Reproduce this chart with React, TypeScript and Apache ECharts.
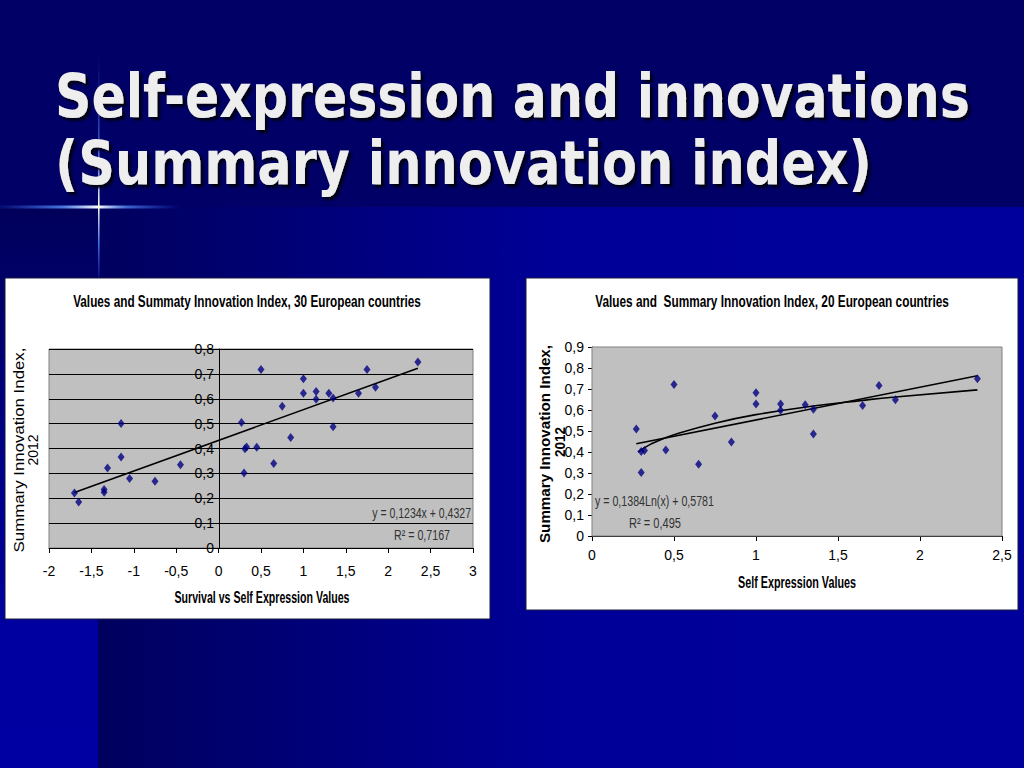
import React, { useEffect, useRef } from "react";
import * as echarts from "echarts";

// ---- data ----
const leftX = [-1.70, -1.65, -1.35, -1.35, -1.31, -1.15, -1.15, -1.05, -0.75, -0.45, 0.27, 0.30, 0.31, 0.33, 0.45, 0.50, 0.65, 0.75, 0.85, 1.0, 1.0, 1.15, 1.15, 1.30, 1.35, 1.35, 1.65, 1.75, 1.85, 2.35];
const leftY = [0.221, 0.185, 0.235, 0.224, 0.322, 0.501, 0.366, 0.279, 0.268, 0.335, 0.505, 0.302, 0.399, 0.406, 0.405, 0.718, 0.340, 0.570, 0.444, 0.680, 0.622, 0.629, 0.598, 0.622, 0.603, 0.487, 0.622, 0.718, 0.646, 0.748];
const leftTrendX = [-1.70, 2.35];
const leftTrendY = [0.223, 0.723];

const rightX = [0.27, 0.30, 0.30, 0.32, 0.45, 0.50, 0.65, 0.75, 0.85, 1.0, 1.0, 1.15, 1.15, 1.30, 1.35, 1.35, 1.65, 1.75, 1.85, 2.35];
const rightY = [0.509, 0.302, 0.402, 0.407, 0.409, 0.722, 0.342, 0.571, 0.448, 0.682, 0.628, 0.628, 0.599, 0.625, 0.604, 0.486, 0.622, 0.717, 0.649, 0.749];
const rightLinX = [0.27, 2.35];
const rightLinY = [0.439, 0.763];
const rightLogX = [0.28, 0.35, 0.40, 0.50, 0.75, 1.0, 1.35, 1.65, 1.85, 2.35];
const rightLogY = [0.400, 0.434, 0.452, 0.482, 0.537, 0.578, 0.619, 0.646, 0.662, 0.696];

const titleLines = ["Self-expression and innovations", "(Summary innovation index)"];
const leftTitle = "Values and Summaty Innovation Index, 30 European countries";
const rightTitle = "Values and  Summary Innovation Index, 20 European countries";
const leftXName = "Survival vs Self Expression Values";
const rightXName = "Self Expression Values";
const yNameMain = "Summary Innovation Index,";
const yNameYear = "2012";
const leftEq = ["y = 0,1234x + 0,4327", "R² = 0,7167"];
const rightEq = ["y = 0,1384Ln(x) + 0,5781", "R² = 0,495"];

const NARROW = "'Liberation Sans Narrow', 'Arial Narrow', 'Liberation Sans', Arial, sans-serif";
const SANS = "'Liberation Sans', Arial, sans-serif";
const TITLE_FONT = "'DejaVu Sans', Verdana, sans-serif";

function measure(text: string, font: string): number {
  const c = document.createElement("canvas");
  const ctx = c.getContext("2d");
  if (!ctx) return text.length * 8;
  ctx.font = font;
  return ctx.measureText(text).width || 1;
}

function fitText(
  text: string,
  x: number,
  y: number,
  target: number,
  o: { size: number; family: string; weight?: string; fill?: string; align?: string; rotation?: number; z?: number; shadow?: boolean }
) {
  const weight = o.weight || "normal";
  const w = measure(text, `${weight} ${o.size}px ${o.family}`);
  const style: any = {
    text,
    fontSize: o.size,
    fontFamily: o.family,
    fontWeight: weight,
    fill: o.fill || "#000",
    align: o.align || "center",
    verticalAlign: "middle",
  };
  if (o.shadow) {
    style.textShadowColor = "rgba(0,0,25,1)";
    style.textShadowOffsetX = 3;
    style.textShadowOffsetY = 3;
    style.textShadowBlur = 2;
  }
  return {
    type: "text",
    x,
    y,
    rotation: o.rotation || 0,
    scaleX: target / w,
    z: o.z ?? 20,
    silent: true,
    style,
  };
}

const fmt = (v: number) => String(+v.toFixed(2)).replace(".", ",");

function zip(a: number[], b: number[]) {
  return a.map((v, i) => [v, b[i]]);
}

export default function App() {
  const ref = useRef<HTMLDivElement>(null);
  useEffect(() => {
    if (!ref.current) return;
    const chart = echarts.init(ref.current, undefined, { renderer: "svg" });

    const axisCommon = (margin: number) => ({
      type: "value",
      axisLine: { show: true, onZero: true, lineStyle: { color: "#000", width: 1 } },
      axisTick: { show: true, length: 5, lineStyle: { color: "#000", width: 1 } },
      axisLabel: { margin, fontSize: 14, color: "#000", fontFamily: NARROW, formatter: fmt },
    });

    const graphic: any[] = [
      // background
      { type: "rect", z: -30, silent: true, shape: { x: 0, y: 0, width: 1024, height: 768 }, style: { fill: "#000066" } },
      {
        type: "rect", z: -29, silent: true,
        shape: { x: 98, y: 207, width: 926, height: 561 },
        style: {
          fill: new echarts.graphic.LinearGradient(0, 0, 1, 0, [
            { offset: 0, color: "#00005e" },
            { offset: 0.5, color: "#000098" },
            { offset: 1, color: "#00009c" },
          ]),
        },
      },
      {
        type: "rect", z: -29, silent: true,
        shape: { x: 0, y: 207, width: 98, height: 561 },
        style: {
          fill: new echarts.graphic.LinearGradient(0, 0, 0, 1, [
            { offset: 0, color: "#00005a" },
            { offset: 0.45, color: "#000088" },
            { offset: 0.75, color: "#0000a0" },
            { offset: 1, color: "#0000a2" },
          ]),
        },
      },
      // flare
      {
        type: "rect", z: -28, silent: true,
        shape: { x: 0, y: 205.5, width: 180, height: 3 },
        style: {
          fill: new echarts.graphic.LinearGradient(0, 0, 1, 0, [
            { offset: 0, color: "rgba(60,110,255,0.1)" },
            { offset: 0.35, color: "rgba(90,150,255,0.8)" },
            { offset: 0.545, color: "#ffffff" },
            { offset: 0.7, color: "rgba(90,150,255,0.7)" },
            { offset: 1, color: "rgba(60,110,255,0)" },
          ]),
        },
      },
      {
        type: "rect", z: -28, silent: true,
        shape: { x: 98, y: 55, width: 1.6, height: 222 },
        style: {
          fill: new echarts.graphic.LinearGradient(0, 0, 0, 1, [
            { offset: 0, color: "rgba(60,110,255,0)" },
            { offset: 0.4, color: "rgba(80,140,255,0.6)" },
            { offset: 0.68, color: "#ffffe0" },
            { offset: 0.85, color: "rgba(80,140,255,0.8)" },
            { offset: 1, color: "rgba(60,110,255,0.2)" },
          ]),
        },
      },
      // panels
      { type: "rect", z: -10, silent: true, shape: { x: 5, y: 278, width: 485, height: 341 }, style: { fill: "#ffffff", stroke: "#1a1a40", lineWidth: 1 } },
      { type: "rect", z: -10, silent: true, shape: { x: 526, y: 278, width: 492, height: 332 }, style: { fill: "#ffffff", stroke: "#1a1a40", lineWidth: 1 } },
      // slide title
      fitText(titleLines[0], 55, 96, 915, { size: 60, family: TITLE_FONT, weight: "bold", fill: "#eeeeee", align: "left", shadow: true }),
      fitText(titleLines[1], 55, 163, 817, { size: 60, family: TITLE_FONT, weight: "bold", fill: "#eeeeee", align: "left", shadow: true }),
      // chart titles
      fitText(leftTitle, 247, 301, 348, { size: 16, family: SANS, weight: "bold" }),
      fitText(rightTitle, 772, 301, 354, { size: 16, family: SANS, weight: "bold" }),
      // x axis names
      fitText(leftXName, 262, 598, 175, { size: 16, family: SANS, weight: "bold" }),
      fitText(rightXName, 797, 583, 118, { size: 16, family: SANS, weight: "bold" }),
      // y axis names
      fitText(yNameMain, 19, 450, 205, { size: 15, family: SANS, rotation: Math.PI / 2 }),
      fitText(yNameYear, 33, 450, 31, { size: 15, family: SANS, rotation: Math.PI / 2 }),
      fitText(yNameMain, 545, 444, 198, { size: 15, family: SANS, weight: "bold", rotation: Math.PI / 2 }),
      fitText(yNameYear, 560, 442, 30, { size: 15, family: SANS, weight: "bold", rotation: Math.PI / 2 }),
      // equations
      fitText(leftEq[0], 471, 513, 99, { size: 15, family: SANS, fill: "#333333", align: "right" }),
      fitText(leftEq[1], 450, 535, 56, { size: 15, family: SANS, fill: "#333333", align: "right" }),
      fitText(rightEq[0], 595, 501, 119, { size: 15, family: SANS, fill: "#333333", align: "left" }),
      fitText(rightEq[1], 629, 523, 52, { size: 15, family: SANS, fill: "#333333", align: "left" }),
    ];

    const scatterStyle = {
      type: "scatter",
      symbol: "diamond",
      symbolSize: [7, 9],
      itemStyle: { color: "#000080" },
      z: 5,
    };
    const lineStyle = {
      type: "line",
      showSymbol: false,
      symbol: "none",
      lineStyle: { color: "#000000", width: 1.6 },
      z: 4,
    };

    chart.setOption({
      animation: false,
      textStyle: { fontFamily: NARROW },
      grid: [
        { left: 49, top: 349, width: 424, height: 199, show: true, backgroundColor: "#c0c0c0", borderColor: "#808080", borderWidth: 1, z: 1 },
        { left: 592, top: 347, width: 410, height: 189, show: true, backgroundColor: "#c0c0c0", borderColor: "#808080", borderWidth: 1, z: 1 },
      ],
      xAxis: [
        { ...axisCommon(16), gridIndex: 0, min: -2, max: 3, interval: 0.5, splitLine: { show: false } },
        { ...axisCommon(12), gridIndex: 1, min: 0, max: 2.5, interval: 0.5, splitLine: { show: false } },
      ],
      yAxis: [
        {
          ...axisCommon(5), gridIndex: 0, min: 0, max: 0.8, interval: 0.1,
          position: "left",
          offset: -170,
          axisLine: { show: true, onZero: false, lineStyle: { color: "#000", width: 1 } },
          axisTick: { show: true, length: 4, lineStyle: { color: "#000" } },
          splitLine: { show: true, lineStyle: { color: "#000", width: 1 } },
          z: 3,
        },
        {
          ...axisCommon(8), gridIndex: 1, min: 0, max: 0.9, interval: 0.1,
          axisTick: { show: true, length: 4, lineStyle: { color: "#000" } },
          splitLine: { show: true, lineStyle: { color: "#000", width: 1 } },
        },
      ],
      graphic,
      series: [
        { ...lineStyle, name: "trend30", xAxisIndex: 0, yAxisIndex: 0, data: zip(leftTrendX, leftTrendY) },
        { ...scatterStyle, name: "30 countries", xAxisIndex: 0, yAxisIndex: 0, data: zip(leftX, leftY) },
        { ...lineStyle, name: "linear20", xAxisIndex: 1, yAxisIndex: 1, data: zip(rightLinX, rightLinY) },
        { ...lineStyle, name: "log20", smooth: true, xAxisIndex: 1, yAxisIndex: 1, data: zip(rightLogX, rightLogY) },
        { ...scatterStyle, name: "20 countries", xAxisIndex: 1, yAxisIndex: 1, data: zip(rightX, rightY) },
      ],
    });
    return () => chart.dispose();
  }, []);

  return (
    <div
      ref={ref}
      style={{ position: "absolute", left: 0, top: 0, width: 1024, height: 768, background: "#000066" }}
    />
  );
}
